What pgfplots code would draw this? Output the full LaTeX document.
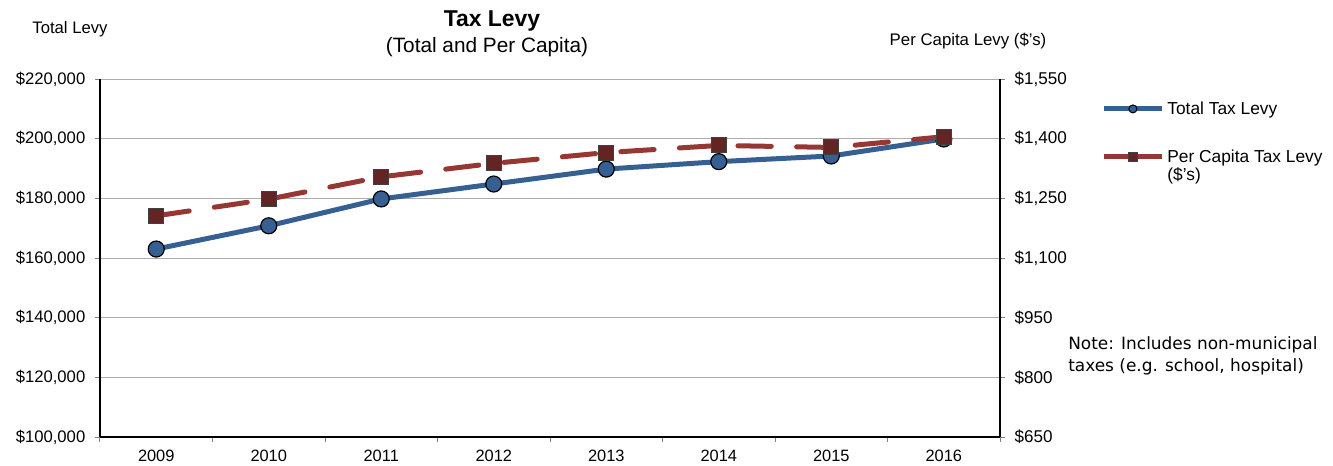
\documentclass[border=0pt]{standalone}
\usepackage{fontspec}
\setmainfont{Liberation Sans}
\newfontfamily\notefont{DejaVu Sans}
\usepackage{pgfplots}
\usepackage{pgfplotstable}
\pgfplotsset{compat=1.18}
\definecolor{bl}{RGB}{55,96,146}
\definecolor{rd}{RGB}{150,55,52}
\definecolor{rdk}{RGB}{99,37,35}
\definecolor{sqedge}{RGB}{64,64,64}
\pgfplotstableread{
x total percap
0 163000 1206
1 170800 1248
2 179800 1304
3 184800 1338
4 189800 1365
5 192300 1383
6 194200 1378
7 199900 1405
}\datatable
\pgfplotsset{
  common/.style={
    at={(0,0)}, anchor=south west, scale only axis,
    width=675pt, height=268.5pt,
    xmin=-0.5, xmax=7.5,
    tick align=outside,
    scaled y ticks=false,
    axis line style={-, black, line width=1pt},
    tick style={gray, line width=0.75pt},
    major tick length=3.5pt,
    ticklabel style={font=\fontsize{12.5}{14}\selectfont},
  },
}
\begin{document}
\begin{tikzpicture}
\begin{axis}[common,
  ymin=100000, ymax=220000,
  ytick={100000,120000,140000,160000,180000,200000,220000},
  yticklabels={{\$100,000},{\$120,000},{\$140,000},{\$160,000},{\$180,000},{\$200,000},{\$220,000}},
  xtick={0,...,7},
  xticklabels={2009,2010,2011,2012,2013,2014,2015,2016},
  minor xtick={-0.5,0.5,...,7.5},
  major x tick style={draw=none},
  minor tick length=4pt,
  axis x line*=bottom, axis y line*=left,
  ymajorgrids,
  grid style={gray!65, line width=0.75pt},
  yticklabel style={xshift=-4pt},
  xticklabel style={yshift=-2.5pt, font=\fontsize{12.3}{14}\selectfont},
  clip=false,
]
\addplot[bl, line width=3.75pt, line join=round,
  mark=*, mark size=6pt,
  mark options={solid, fill=bl, draw=black, line width=0.9pt}]
  table[x=x, y=total] {\datatable};
\end{axis}
\begin{axis}[common,
  ymin=650, ymax=1550,
  ytick={650,800,950,1100,1250,1400,1550},
  yticklabels={{\$650},{\$800},{\$950},{\$1,100},{\$1,250},{\$1,400},{\$1,550}},
  xtick=\empty,
  axis x line=none, axis y line*=right,
  yticklabel style={xshift=4pt, font=\fontsize{12.8}{14}\selectfont},
  clip=false,
  legend style={draw=none, fill=none, at={(1.112,0.945)}, anchor=north west,
    font=\fontsize{13}{12.8}\selectfont, row sep=21pt, inner sep=0pt,
    nodes={inner xsep=2pt}},
  legend cell align=left,
  legend image code/.code={\draw[mark repeat=2,mark phase=2,#1] plot coordinates {(0pt,0pt) (22pt,0pt) (44pt,0pt)};},
]
\addlegendimage{bl, line width=3.75pt, mark=*, mark size=3pt,
  mark options={fill=bl, draw=black, line width=0.75pt}}
\addlegendentry{Total Tax Levy}
\addlegendimage{rd, line width=3.75pt, mark=square*, mark size=3.2pt, yshift=0pt,
  mark options={fill=rdk, draw=sqedge, line width=0.6pt}}
\addlegendentry{\begin{tabular}[t]{@{}l@{}}Per Capita Tax Levy\\(\$'s)\end{tabular}}
\addplot[rd, line width=3.75pt, line cap=round, dash pattern=on 25pt off 19pt,
  mark=square*, mark size=5.6pt,
  mark options={solid, fill=rdk, draw=sqedge, line width=0.75pt}]
  table[x=x, y=percap] {\datatable};
\end{axis}
\node[font=\fontsize{17.2}{19}\selectfont\bfseries] at (294pt,312pt) {Tax Levy};
\node[font=\fontsize{15.6}{17}\selectfont] at (290.25pt,292.5pt) {(Total and Per Capita)};
\node[font=\fontsize{12.5}{14}\selectfont] at (-22.5pt,306pt) {Total Levy};
\node[font=\fontsize{12.6}{14}\selectfont] at (651pt,297pt) {Per Capita Levy (\$'s)};
\node[font=\notefont\fontsize{12.7}{14}\selectfont, anchor=base west, inner sep=0pt] at (726pt,65.8pt) {Note: Includes non-municipal};
\node[font=\notefont\fontsize{12.7}{14}\selectfont, anchor=base west, inner sep=0pt] at (726pt,49.3pt) {taxes (e.g. school, hospital)};
\pgfresetboundingbox
\path[use as bounding box] (-75pt,-21pt) rectangle (924.75pt,327.75pt);
\end{tikzpicture}
\end{document}
